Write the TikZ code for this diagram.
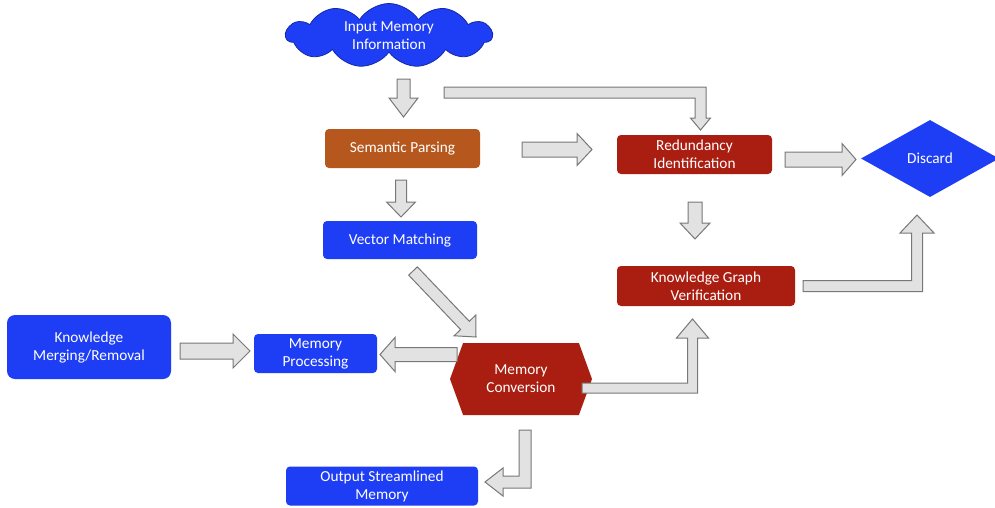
\documentclass[tikz,border=0pt]{standalone}
\usepackage{fontspec}
\setmainfont{Carlito}
\usetikzlibrary{shapes.geometric,shapes.symbols,calc}
\definecolor{bblue}{RGB}{30,62,245}
\definecolor{bblueline}{RGB}{20,40,170}
\definecolor{borange}{RGB}{182,88,30}
\definecolor{bred}{RGB}{170,30,18}
\definecolor{afill}{RGB}{226,226,226}
\definecolor{aline}{RGB}{120,120,120}
\newcommand\blockarr[5]{%
  \coordinate (abase) at ($(#2)!#5!(#1)$);
  \draw[barrow] ($(#1)!#3!90:(#2)$) -- ($(abase)!#3!90:(#2)$) -- ($(abase)!#4!90:(#2)$) -- (#2)
    -- ($(abase)!#4!-90:(#2)$) -- ($(abase)!#3!-90:(#2)$) -- ($(#1)!#3!-90:(#2)$) -- cycle;}
\begin{document}
\begin{tikzpicture}[x=1pt,y=-1pt,
  txt/.style={text=white, align=center, inner sep=0pt, font=\fontsize{15.3}{18}\selectfont},
  box/.style={txt, rectangle, rounded corners=4pt},
  barrow/.style={fill=afill, draw=aline, line width=1pt, line join=miter}]
\path[use as bounding box, fill=white] (0,0) rectangle (995,507);

% nodes
\node[txt, cloud, cloud puffs=11, cloud puff arc=115, aspect=3.1, fill=bblue, draw=bblueline, line width=0.8pt,
      minimum width=206pt, minimum height=64pt] (cloud) at (389,35.5) {Input Memory\\Information};
\node[box, fill=borange, minimum width=155pt, minimum height=39pt] (sem) at (402.5,148.5) {Semantic Parsing};
\node[box, fill=bred, minimum width=155pt, minimum height=39pt] (red) at (694.5,154.5) {Redundancy\\Identification};
\node[box, fill=bred, minimum width=178pt, minimum height=40pt] (kg) at (706,286) {Knowledge Graph\\Verification};
\node[box, fill=bblue, minimum width=154pt, minimum height=38pt] (vec) at (400,240) {Vector Matching};
\node[box, fill=bblue, rounded corners=8pt, minimum width=164pt, minimum height=64pt] (know) at (89,347) {Knowledge\\Merging/Removal};
\node[box, fill=bblue, minimum width=123pt, minimum height=39pt] (mproc) at (315.5,353.5) {Memory\\Processing};
\node[txt, signal, signal to=east and west, signal pointer angle=140, fill=bred,
      minimum width=142pt, minimum height=72pt] (mconv) at (521,379) {Memory\\Conversion};
\node[box, fill=bblue, minimum width=192pt, minimum height=39pt] (out) at (382,486) {Output Streamlined\\Memory};
\node[txt, diamond, fill=bblue, minimum width=138pt, minimum height=77pt] (disc) at (930,158.5) {Discard};

% straight block arrows
\coordinate (a1s) at (403.5,79);  \coordinate (a1e) at (403.5,117);
\blockarr{a1s}{a1e}{6.5pt}{14.5pt}{19pt}
\coordinate (a2s) at (401,180);   \coordinate (a2e) at (401,217);
\blockarr{a2s}{a2e}{5.5pt}{14.5pt}{15pt}
\coordinate (a3s) at (522,149.5); \coordinate (a3e) at (592,149.5);
\blockarr{a3s}{a3e}{7.5pt}{16pt}{15pt}
\coordinate (a4s) at (785,159.5); \coordinate (a4e) at (856,159.5);
\blockarr{a4s}{a4e}{7.5pt}{16pt}{14pt}
\coordinate (a5s) at (695,202);   \coordinate (a5e) at (695,239);
\blockarr{a5s}{a5e}{7pt}{15pt}{16pt}
\coordinate (a6s) at (180,351);   \coordinate (a6e) at (250,351);
\blockarr{a6s}{a6e}{8pt}{17pt}{17pt}
\coordinate (a7s) at (457,354.5); \coordinate (a7e) at (380,354.5);
\blockarr{a7s}{a7e}{7pt}{17pt}{15pt}
\coordinate (a8s) at (413,271);   \coordinate (a8e) at (476,337);
\blockarr{a8s}{a8e}{6pt}{15pt}{16pt}

% elbow block arrows
\coordinate (e1s) at (444,92.5); \coordinate (e1c) at (700.5,92.5); \coordinate (e1e) at (700.5,130);
\draw[barrow] ($(e1s)+(0,-5.5)$) -- ($(e1c)+(5.5,-5.5)$) -- ($(e1e)+(5.5,-12)$) -- ($(e1e)+(10,-12)$) -- (e1e)
  -- ($(e1e)+(-10,-12)$) -- ($(e1e)+(-5.5,-12)$) -- ($(e1c)+(-5.5,5.5)$) -- ($(e1s)+(0,5.5)$) -- cycle;

\coordinate (e2s) at (582,388); \coordinate (e2c) at (692.5,388); \coordinate (e2e) at (692.5,319);
\draw[barrow] ($(e2s)+(0,-5)$) -- ($(e2c)+(-5,-5)$) -- ($(e2e)+(-5,19)$) -- ($(e2e)+(-16,19)$) -- (e2e)
  -- ($(e2e)+(16,19)$) -- ($(e2e)+(5,19)$) -- ($(e2c)+(5,5)$) -- ($(e2s)+(0,5)$) -- cycle;

\coordinate (e3s) at (803,286); \coordinate (e3c) at (917,286); \coordinate (e3e) at (917,215);
\draw[barrow] ($(e3s)+(0,-5.5)$) -- ($(e3c)+(-5.5,-5.5)$) -- ($(e3e)+(-5.5,18)$) -- ($(e3e)+(-17,18)$) -- (e3e)
  -- ($(e3e)+(17,18)$) -- ($(e3e)+(5.5,18)$) -- ($(e3c)+(5.5,5.5)$) -- ($(e3s)+(0,5.5)$) -- cycle;

\coordinate (e4s) at (525,430); \coordinate (e4c) at (525,482); \coordinate (e4e) at (485,482);
\draw[barrow] ($(e4s)+(-6,0)$) -- ($(e4c)+(-6,-6)$) -- ($(e4e)+(18,-6)$) -- ($(e4e)+(18,-14)$) -- (e4e)
  -- ($(e4e)+(18,14)$) -- ($(e4e)+(18,6)$) -- ($(e4c)+(6,6)$) -- ($(e4s)+(6,0)$) -- cycle;
\end{tikzpicture}
\end{document}
